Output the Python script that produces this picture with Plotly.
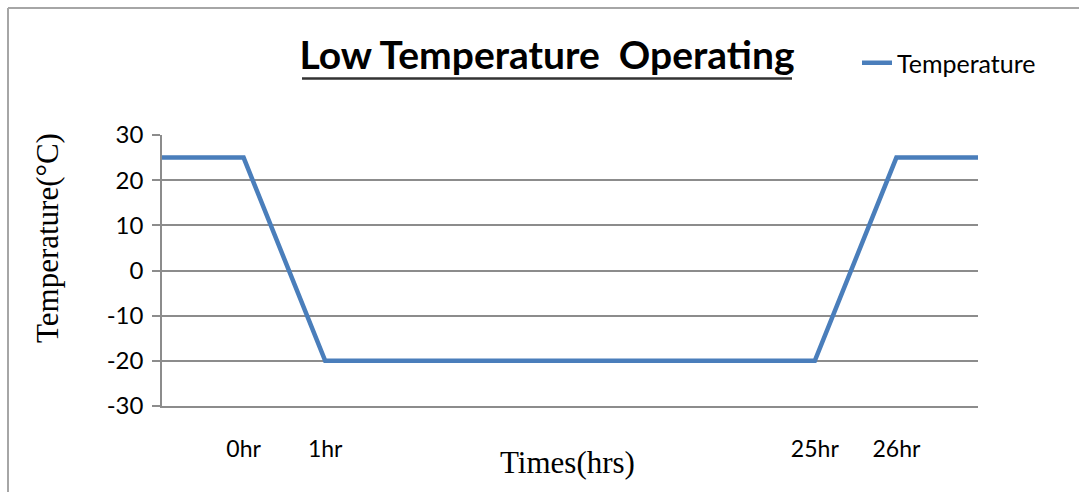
import plotly.graph_objects as go

# data
x_index = [0, 1, 2, 3, 4, 5, 6, 7, 8, 9, 10]
temperature = [25, 25, -20, -20, -20, -20, -20, -20, -20, 25, 25]
tick_positions = [1, 2, 8, 9]
tick_labels = ["0hr", "1hr", "25hr", "26hr"]
y_ticks = [-30, -20, -10, 0, 10, 20, 30]
y_tick_labels = ["-30", "-20", "-10", "0", "10", "20", "30"]

W, H = 1079, 492
L, R, T, B = 162, 101, 135, 86
pw, ph = W - L - R, H - T - B

def px_to_paper_x(px):
    return (px - L) / pw

def px_to_paper_y(py):
    return (H - B - py) / ph

fig = go.Figure()
fig.add_trace(go.Scatter(
    x=x_index, y=temperature, mode="lines", name="Temperature",
    line=dict(color="#4A7EBB", width=4.5),
))

grid = "#8c8c8c"
serif = "Liberation Serif, serif"
fig.update_layout(
    width=W, height=H,
    margin=dict(l=L, r=R, t=T, b=B),
    paper_bgcolor="white", plot_bgcolor="white",
    font=dict(family="Lato, sans-serif", color="#000000"),
    title=dict(
        text="<b>Low Temperature  Operating</b>",
        x=547 / W, xanchor="center", y=1 - 55 / H, yanchor="middle",
        xref="container", yref="container",
        font=dict(family="Lato, sans-serif", size=39, color="#000000"),
    ),
    showlegend=True,
    legend=dict(
        x=px_to_paper_x(857), xanchor="left",
        y=px_to_paper_y(63), yanchor="middle",
        font=dict(family="Lato, sans-serif", size=25, color="#000000"),
        bgcolor="rgba(0,0,0,0)",
    ),
    xaxis=dict(
        range=[0, 10], showgrid=False, zeroline=False,
        showline=True, linecolor=grid, linewidth=1.5,
        tickmode="array", tickvals=tick_positions, ticktext=tick_labels,
        ticks="", tickfont=dict(family="Lato, sans-serif", size=23),
        ticklabelstandoff=22,
    ),
    yaxis=dict(
        range=[-30, 30], tickmode="array", tickvals=y_ticks, ticktext=y_tick_labels,
        showgrid=True, gridcolor=grid, gridwidth=1.5, zeroline=False,
        showline=True, linecolor=grid, linewidth=1.5,
        ticks="outside", ticklen=8, tickcolor=grid, tickwidth=1.5,
        tickfont=dict(family="Lato, sans-serif", size=24),
        ticklabelstandoff=4,
    ),
    annotations=[
        dict(text="Temperature(°C)", textangle=-90, showarrow=False,
             xref="paper", yref="paper",
             x=px_to_paper_x(47), y=px_to_paper_y(238),
             xanchor="center", yanchor="middle",
             font=dict(family=serif, size=31, color="#000000")),
        dict(text="Times(hrs)", showarrow=False,
             xref="paper", yref="paper",
             x=px_to_paper_x(567), y=px_to_paper_y(462),
             xanchor="center", yanchor="middle",
             font=dict(family=serif, size=31, color="#000000")),
    ],
    shapes=[
        # title underline
        dict(type="line", xref="paper", yref="paper",
             x0=px_to_paper_x(302), x1=px_to_paper_x(792),
             y0=px_to_paper_y(78.5), y1=px_to_paper_y(78.5),
             line=dict(color="#333333", width=2.5)),
        # outer chart border (top and left)
        dict(type="line", xref="paper", yref="paper",
             x0=px_to_paper_x(8), x1=px_to_paper_x(1079),
             y0=px_to_paper_y(8), y1=px_to_paper_y(8),
             line=dict(color="#a6a6a6", width=2)),
        dict(type="line", xref="paper", yref="paper",
             x0=px_to_paper_x(8), x1=px_to_paper_x(8),
             y0=px_to_paper_y(8), y1=px_to_paper_y(492),
             line=dict(color="#a6a6a6", width=2)),
    ],
)

fig.write_html(
    "out.html",
    config={"displayModeBar": False},
    post_script="document.body.style.margin='0';document.body.style.overflow='hidden';",
)
